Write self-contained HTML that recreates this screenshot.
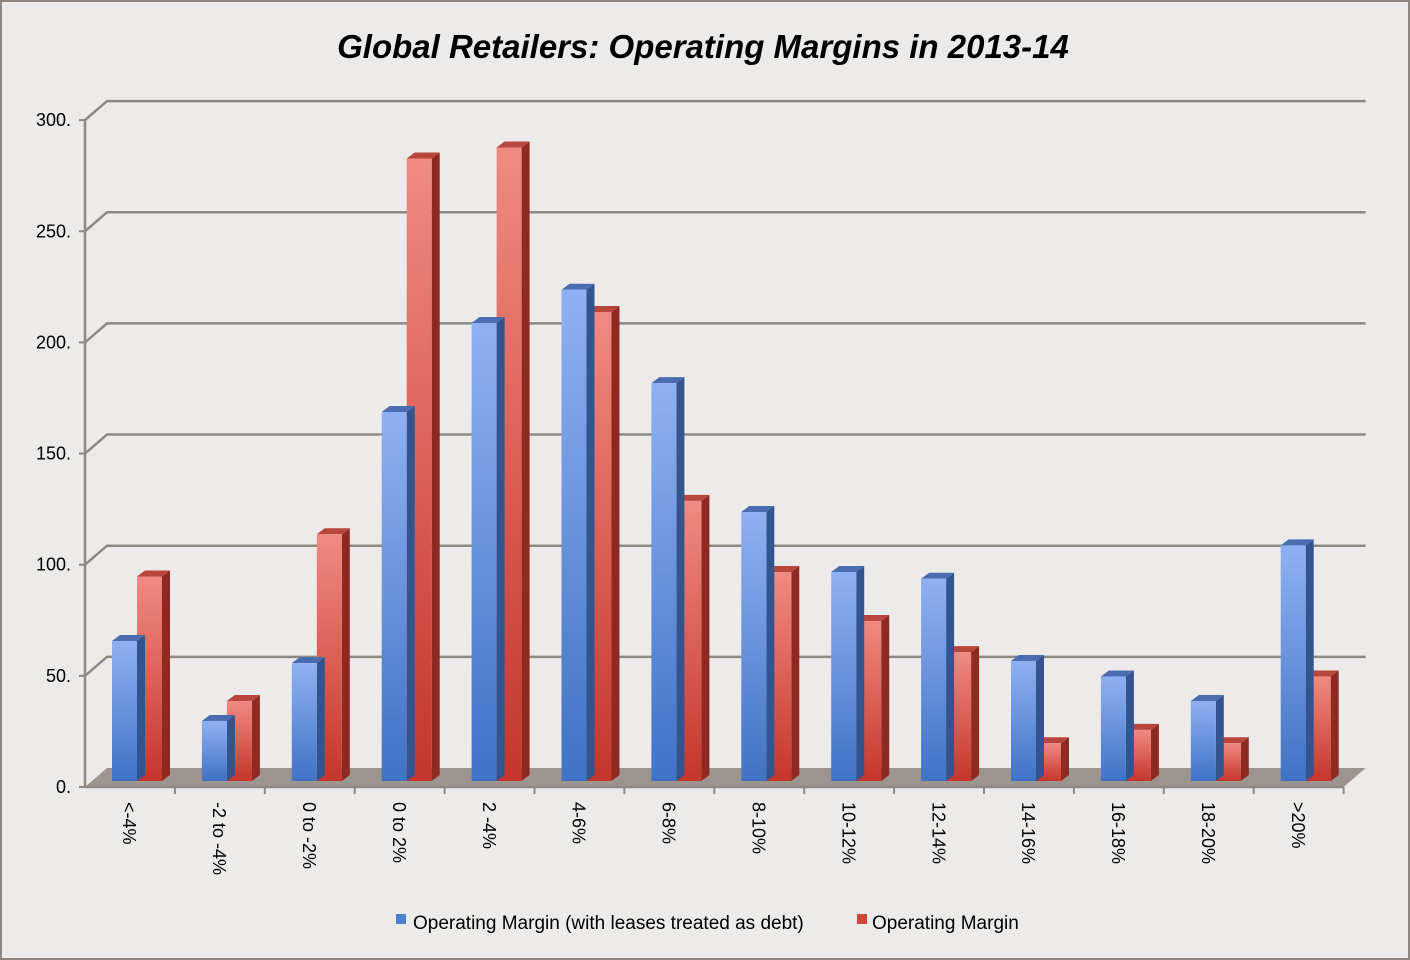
<!DOCTYPE html>
<html><head><meta charset="utf-8"><style>
body{margin:0;background:#fff}
svg{display:block}
text{font-family:"Liberation Sans",sans-serif}
</style></head><body>
<svg id="chart" width="1410" height="960">
<defs>
<linearGradient id="gb" x1="0" y1="0" x2="0" y2="1"><stop offset="0" stop-color="#8fb0f3"/><stop offset="1" stop-color="#3f73c4"/></linearGradient>
<linearGradient id="gr" x1="0" y1="0" x2="0" y2="1"><stop offset="0" stop-color="#f08a80"/><stop offset="1" stop-color="#c5362c"/></linearGradient>
</defs>
<rect x="0" y="0" width="1410" height="960" fill="#ecebe9" stroke="#8c8580" stroke-width="4"/>
<text x="703" y="58" text-anchor="middle" font-size="33" font-weight="bold" font-style="italic" fill="#000">Global Retailers: Operating Margins in 2013-14</text>
<g id="grid"></g>
<g id="bars"></g>
<g id="axes"></g>
<g>
<rect x="396" y="914" width="10" height="10" fill="#4f7fd0"/>
<text x="413" y="929" font-size="19" fill="#000">Operating Margin (with leases treated as debt)</text>
<rect x="857" y="914" width="10" height="10" fill="#d2463a"/>
<text x="872" y="929" font-size="19" fill="#000">Operating Margin</text>
</g>
</svg>
<script>
const categories=["<-4%","-2 to -4%","0 to -2%","0 to 2%","2 -4%","4-6%","6-8%","8-10%","10-12%","12-14%","14-16%","16-18%","18-20%",">20%"];
const leaseValues=[63,27,53,166,206,221,179,121,94,91,54,47,36,106];
const marginValues=[92,36,111,280,285,211,126,94,72,58,17,23,17,47];
const yTicks=[0,50,100,150,200,250,300];
const yTickLabels=["0.","50.","100.","150.","200.","250.","300."];
const NS="http://www.w3.org/2000/svg";
const X0=85,STEP=89.9,Y0=787,SCALE=2.223,DX=22,DY=-19;
function yv(v){return Y0-v*SCALE;}
function xc(i){return X0+i*STEP;}
function mk(tag,attrs,parent){const e=document.createElementNS(NS,tag);for(const k in attrs)e.setAttribute(k,attrs[k]);parent.appendChild(e);return e;}
const grid=document.getElementById('grid'),bars=document.getElementById('bars'),axes=document.getElementById('axes');
const floor=mk('polygon',{points:`${X0},${Y0} ${xc(14)},${Y0} ${xc(14)+DX},${Y0+DY} ${X0+DX},${Y0+DY}`,fill:'#9c948e'},grid);


yTicks.forEach((t,k)=>{
  if(t>0){
    const g=mk('polyline',{points:`${X0},${yv(t)} ${X0+DX},${yv(t)+DY} ${xc(14)+DX},${yv(t)+DY}`,fill:'none',stroke:'#8f8984','stroke-width':2.5},grid);
    
    
  }
  const l=mk('text',{x:X0-14,y:yv(t)+6,'text-anchor':'end','font-size':18,fill:'#000'},axes);
  l.textContent=yTickLabels[k];
  
  
  const tk=mk('line',{x1:X0-6,y1:yv(t),x2:X0,y2:yv(t),stroke:'#8f8984','stroke-width':2},axes);
  
  
});
const ya=mk('line',{x1:X0,y1:yv(300),x2:X0,y2:Y0,stroke:'#8f8984','stroke-width':2.5},axes);


const xa=mk('line',{x1:X0,y1:Y0,x2:xc(14),y2:Y0,stroke:'#8f8984','stroke-width':2.5},axes);


const BW=25,BDX=8,BDY=-6,BASE=781;
function bar(x,v,front,side,top,name){
  const y=BASE-v*SCALE;
  const g=mk('g',{},bars);
  
  
  mk('polygon',{points:`${x+BW},${y} ${x+BW+BDX},${y+BDY} ${x+BW+BDX},${BASE+BDY} ${x+BW},${BASE}`,fill:side},g);
  mk('polygon',{points:`${x},${y} ${x+BDX},${y+BDY} ${x+BW+BDX},${y+BDY} ${x+BW},${y}`,fill:top},g);
  mk('rect',{x:x,y:y,width:BW,height:BASE-y,fill:front},g);
}
categories.forEach((c,i)=>{
  const x=xc(i)+27;
  bar(x+BW,marginValues[i],'url(#gr)','#8e2a22','#b8463c','bar-margin-'+i);
  bar(x,leaseValues[i],'url(#gb)','#34548f','#4a6cb0','bar-lease-'+i);
  const tk=mk('line',{x1:xc(i+1),y1:Y0,x2:xc(i+1),y2:Y0+7,stroke:'#8f8984','stroke-width':2},axes);
  
  
  const cx=xc(i)+STEP/2-2;
  const t=mk('text',{x:cx,y:802,'font-size':18,fill:'#000',transform:`rotate(90 ${cx} 802)`,'dominant-baseline':'middle'},axes);
  t.textContent=c;
  
  
});
</script>
</body></html>
